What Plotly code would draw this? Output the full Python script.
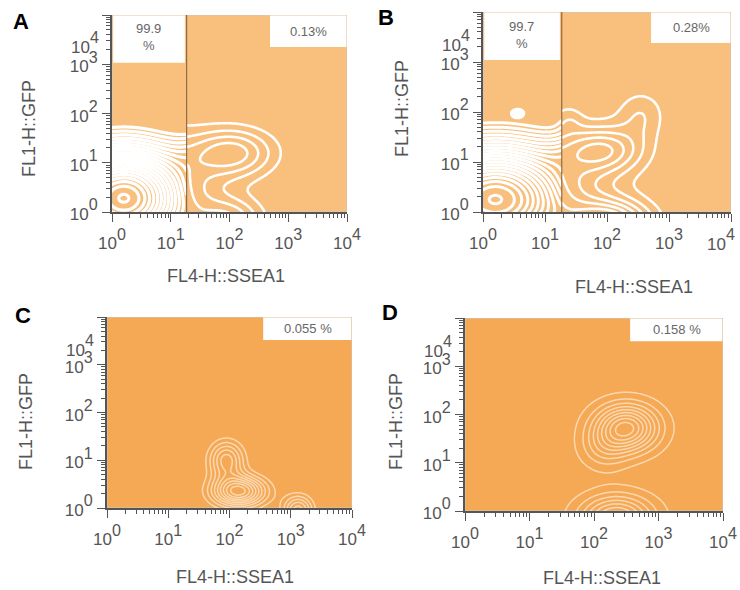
import numpy as np
import plotly.graph_objects as go

# ---------------- data (log10 units of fluorescence) ----------------
panel_letters = ["A", "B", "C", "D"]
box_left_text = ["99.9<br>%", "99.7<br>%"]
box_right_text = ["0.13%", "0.28%", "0.055 %", "0.158 %"]
x_title = "FL4-H::SSEA1"
y_title = "FL1-H::GFP"
decades = [0, 1, 2, 3, 4]
decade_labels = [
    '<span style="font-size:17px">10</span><sup>0</sup>',
    '<span style="font-size:17px">10</span><sup>1</sup>',
    '<span style="font-size:17px">10</span><sup>2</sup>',
    '<span style="font-size:17px">10</span><sup>3</sup>',
    '<span style="font-size:17px">10</span><sup>4</sup>',
]
gate_ssea1 = [1.27, 1.27]  # quadrant gate (log10) in panels A and B

# cell populations: centre x, centre y, spread x, spread y, weight
A_pop_x = [0.20, 2.05, 2.00]
A_pop_y = [0.28, 1.20, -0.15]
A_pop_sx = [0.85, 0.50, 0.40]
A_pop_sy = [0.80, 0.35, 0.30]
A_pop_w = [1.00, 0.45, 0.35]

B_pop_x = [0.20, 0.56, 1.94, 2.55, 1.40, 2.05]
B_pop_y = [0.25, 1.98, 1.24, 1.95, 1.85, -0.20]
B_pop_sx = [1.00, 0.06, 0.45, 0.28, 0.15, 0.45]
B_pop_sy = [0.85, 0.05, 0.32, 0.35, 0.20, 0.30]
B_pop_w = [1.00, 0.30, 0.45, 0.20, 0.10, 0.60]

C_pop_x = [1.95, 2.15, 3.12]
C_pop_y = [1.00, 0.35, -0.05]
C_pop_sx = [0.20, 0.30, 0.17]
C_pop_sy = [0.28, 0.22, 0.22]
C_pop_w = [0.60, 1.00, 0.60]

D_pop_x = [2.50, 2.15, 2.35]
D_pop_y = [1.72, 1.30, -0.15]
D_pop_sx = [0.33, 0.25, 0.38]
D_pop_sy = [0.33, 0.30, 0.32]
D_pop_w = [1.00, 0.25, 0.80]

# ---------------- helpers ----------------
FONT = "Liberation Sans, Arial, sans-serif"
W, H = 740, 590


def density(gx, gy, px, py, sx, sy, w):
    X, Y = np.meshgrid(gx, gy)
    Z = np.zeros_like(X)
    for cx, cy, ax, ay, ww in zip(px, py, sx, sy, w):
        Z += ww * np.exp(-0.5 * (((X - cx) / ax) ** 2 + ((Y - cy) / ay) ** 2))
    return Z


def contour(gx, gy, Z, start, end, size, color, width, idx):
    return go.Contour(
        x=gx, y=gy, z=Z,
        contours=dict(coloring="lines", start=start, end=end, size=size),
        colorscale=[[0, color], [1, color]],
        line=dict(width=width, smoothing=1.2),
        showscale=False, hoverinfo="skip",
        xaxis="x" + ("" if idx == 1 else str(idx)),
        yaxis="y" + ("" if idx == 1 else str(idx)),
    )


def px2x(p):
    return p / W


def py2y(p):
    return 1 - p / H


# pixel boxes of the four plot areas: (left, right, top, bottom)
areas = [(112, 347, 15, 212), (483, 731, 12, 212), (107, 352, 317, 508), (465, 723, 318, 511)]
bg_colors = ["#F8BF7D", "#F8BF7D", "#F5A955", "#F5A955"]

gy = np.linspace(-0.8, 4.2, 260)
gx_full = np.linspace(-0.5, 4.3, 260)

traces = []
# Panel A
gxl = np.linspace(-0.5, gate_ssea1[0], 140)
gxr = np.linspace(gate_ssea1[0], 4.3, 220)
traces.append(contour(gxl, gy, density(gxl, gy, A_pop_x, A_pop_y, A_pop_sx, A_pop_sy, A_pop_w),
                      0.195, 0.995, 0.04, "white", 3.2, 1))
traces.append(contour(gxr, gy, density(gxr, gy, A_pop_x, A_pop_y, A_pop_sx, A_pop_sy, A_pop_w),
                      0.12, 0.45, 0.10, "white", 2.6, 1))
# Panel B
gxl = np.linspace(-0.5, gate_ssea1[1], 140)
gxr = np.linspace(gate_ssea1[1], 4.3, 220)
traces.append(contour(gxl, gy, density(gxl, gy, B_pop_x, B_pop_y, B_pop_sx, B_pop_sy, B_pop_w),
                      0.195, 0.995, 0.04, "white", 3.0, 2))
traces.append(contour(gxr, gy, density(gxr, gy, B_pop_x, B_pop_y, B_pop_sx, B_pop_sy, B_pop_w),
                      0.12, 0.62, 0.10, "white", 2.6, 2))
# Panel C
traces.append(contour(gx_full, gy, density(gx_full, gy, C_pop_x, C_pop_y, C_pop_sx, C_pop_sy, C_pop_w),
                      0.15, 1.0, 0.10, "rgba(255,255,255,0.55)", 1.5, 3))
# Panel D
traces.append(contour(gx_full, gy, density(gx_full, gy, D_pop_x, D_pop_y, D_pop_sx, D_pop_sy, D_pop_w),
                      0.08, 1.0, 0.11, "rgba(255,255,255,0.55)", 1.5, 4))

fig = go.Figure(traces)

minor_vals = [d + np.log10(k) for d in range(4) for k in range(2, 10)]

layout = dict(
    width=W, height=H,
    margin=dict(l=0, r=0, t=0, b=0, pad=0, autoexpand=False),
    paper_bgcolor="white", plot_bgcolor="white",
    showlegend=False,
    font=dict(family=FONT, color="#555"),
)

shapes = []
annotations = []
top_label_text = decade_labels[:4] + [""]   # the 10^4 label is set lower, as in the source
for i, (l, r, t, b) in enumerate(areas):
    n = i + 1
    sfx = "" if n == 1 else str(n)
    ax_common = dict(
        range=[0, 4], tickmode="array", tickvals=decades,
        ticks="outside", ticklen=8, tickwidth=1.3, tickcolor="#555",
        showline=True, linecolor="#555", linewidth=1.6,
        showgrid=False, zeroline=False, automargin=False, ticklabeloverflow="allow",
        tickfont=dict(family=FONT, size=23, color="#555"),
        minor=dict(tickmode="array", tickvals=minor_vals, ticks="outside", ticklen=4,
                   tickwidth=1, tickcolor="#555", showgrid=False),
        fixedrange=True,
    )
    xtext = top_label_text if n == 2 else decade_labels
    layout["xaxis" + sfx] = dict(ax_common, ticktext=xtext, domain=[px2x(l), px2x(r)], anchor="y" + sfx)
    layout["yaxis" + sfx] = dict(ax_common, ticktext=top_label_text, domain=[py2y(b), py2y(t)],
                                 anchor="x" + sfx)
    xr, yr = "x" + sfx, "y" + sfx
    # panel background
    shapes.append(dict(type="rect", xref=xr, yref=yr, x0=0, x1=4, y0=0, y1=4,
                       fillcolor=bg_colors[i], line=dict(width=1, color="#c8c8c8"), layer="below"))
    # the displaced 10^4 label of the y axis
    annotations.append(dict(xref="paper", yref="paper", x=px2x(l - 11), y=py2y(t + 28),
                            xanchor="right", yanchor="middle", text=decade_labels[4], showarrow=False,
                            font=dict(family=FONT, size=23, color="#555")))

# displaced 10^4 label of panel B x axis
annotations.append(dict(xref="paper", yref="paper", x=px2x(737), y=py2y(212 + 11),
                        xanchor="right", yanchor="top", text=decade_labels[4], showarrow=False,
                        font=dict(family=FONT, size=23, color="#555")))

# quadrant gates and label boxes
for i in range(2):
    sfx = "" if i == 0 else "2"
    xr, yr = "x" + sfx, "y" + sfx
    g = gate_ssea1[i]
    shapes.append(dict(type="line", xref=xr, yref=yr, x0=g, x1=g, y0=0, y1=4,
                       line=dict(color="rgba(110,80,50,0.75)", width=1.2), layer="above"))
left_boxes = [(0, 1.24, 3.03, 4), (0, 1.24, 3.04, 4)]
right_boxes = [(2.69, 4, 3.35, 4), (2.71, 4, 3.38, 4), (2.55, 4, 3.52, 4), (2.56, 4, 3.52, 4)]
for i, (x0, x1, y0, y1) in enumerate(left_boxes):
    sfx = "" if i == 0 else str(i + 1)
    shapes.append(dict(type="rect", xref="x" + sfx, yref="y" + sfx, x0=x0 + 0.02, x1=x1, y0=y0, y1=y1 - 0.01,
                       fillcolor="white", line=dict(width=0), layer="above"))
    annotations.append(dict(xref="x" + sfx, yref="y" + sfx, x=(x0 + x1) / 2, y=(y0 + y1) / 2 + 0.03,
                            xanchor="center", yanchor="middle",
                            text=box_left_text[i], showarrow=False,
                            font=dict(family=FONT, size=13, color="#666")))
for i, (x0, x1, y0, y1) in enumerate(right_boxes):
    sfx = "" if i == 0 else str(i + 1)
    shapes.append(dict(type="rect", xref="x" + sfx, yref="y" + sfx, x0=x0, x1=x1 - 0.01, y0=y0, y1=y1 - 0.01,
                       fillcolor="white", line=dict(width=0), layer="above"))
    annotations.append(dict(xref="x" + sfx, yref="y" + sfx, x=(x0 + x1) / 2, y=(y0 + y1) / 2,
                            xanchor="center", yanchor="middle",
                            text=box_right_text[i], showarrow=False,
                            font=dict(family=FONT, size=13, color="#666")))

# panel letters
letter_pos = [(21, 22), (386, 18), (23, 315), (390, 312)]
for L, (x, y) in zip(panel_letters, letter_pos):
    annotations.append(dict(xref="paper", yref="paper", x=px2x(x), y=py2y(y), text="<b>%s</b>" % L,
                            xanchor="center", yanchor="middle",
                            showarrow=False, font=dict(family=FONT, size=22, color="black")))

# axis titles
xt_pos = [(226, 276), (634, 287), (235, 577), (602, 578)]
yt_pos = [(29, 129), (402, 109), (26, 422), (396, 422)]
for (x, y) in xt_pos:
    annotations.append(dict(xref="paper", yref="paper", x=px2x(x), y=py2y(y), text=x_title,
                            xanchor="center", yanchor="middle",
                            showarrow=False, font=dict(family=FONT, size=18, color="#555")))
for (x, y) in yt_pos:
    annotations.append(dict(xref="paper", yref="paper", x=px2x(x), y=py2y(y), text=y_title,
                            xanchor="center", yanchor="middle",
                            textangle=-90, showarrow=False, font=dict(family=FONT, size=18, color="#555")))

layout["shapes"] = shapes
layout["annotations"] = annotations
fig.update_layout(**layout)
fig.write_html(
    "out.html",
    config={"displayModeBar": False},
    post_script="document.body.style.margin='0';document.body.style.padding='0';"
                "document.body.style.overflow='hidden';",
)
